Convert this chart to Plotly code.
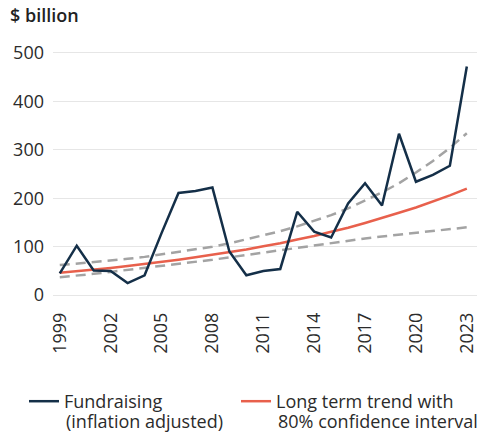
import plotly.graph_objects as go

# Years covered by the series
years = list(range(1999, 2024))

# Fundraising, inflation adjusted ($ billion)
fundraising = [45, 102, 51, 50, 25, 41, 128, 211, 215, 222, 90, 41, 50, 54,
               172, 131, 119, 189, 231, 185, 333, 234, 248, 267, 472]

# Long term trend ($ billion)
trend = [46, 49, 52, 56, 60, 64, 68, 73, 78, 83, 88, 94, 101, 107,
         115, 122, 131, 139, 149, 159, 170, 181, 193, 206, 220]

# 80% confidence interval bounds ($ billion)
upper = [62, 65, 68, 71, 75, 79, 84, 89, 94, 100, 107, 115, 123, 132,
         142, 153, 165, 179, 195, 212, 231, 253, 277, 304, 334]
lower = [37, 40, 44, 48, 52, 56, 60, 64, 69, 73, 78, 83, 88, 93,
         98, 102, 107, 112, 117, 121, 125, 129, 133, 137, 140]

y_ticks = [0, 100, 200, 300, 400, 500]
x_ticks = list(range(1999, 2024, 3))

# Legend labels, split over two lines
fund_label = ["Fundraising", "(inflation adjusted)"]
trend_label = ["Long term trend with", "80% confidence interval"]

NAVY = "#142f48"
RED = "#e8604c"
GREY = "#a3a3a3"
FONT = "Open Sans"
TEXT = "#2b2b2b"

# plot area geometry (pixels) used to place the legend's second lines
W, H = 484, 434
M_L, M_R, M_T, M_B = 53, 7, 48, 134
PLOT_W = W - M_L - M_R
PLOT_H = H - M_T - M_B


def paper_x(px):
    return (px - M_L) / PLOT_W


def paper_y(py):
    return (H - M_B - py) / PLOT_H


fig = go.Figure()

for band in (upper, lower):
    fig.add_trace(go.Scatter(
        x=years, y=band, mode="lines", showlegend=False, hoverinfo="skip",
        line=dict(color=GREY, width=2.5, dash="10px,6px"),
    ))

fig.add_trace(go.Scatter(
    x=years, y=trend, mode="lines", legend="legend2",
    name=trend_label[0],
    line=dict(color=RED, width=2.5),
))

fig.add_trace(go.Scatter(
    x=years, y=fundraising, mode="lines", legend="legend",
    name=fund_label[0],
    line=dict(color=NAVY, width=2.5),
))

legend_common = dict(
    orientation="h", xref="container", yref="container",
    y=1 - 383 / 434, xanchor="left", yanchor="top",
    valign="middle", font=dict(size=18, color=TEXT),
    bgcolor="rgba(0,0,0,0)",
)

second_lines = [
    dict(text=fund_label[1], xref="paper", yref="paper",
         x=paper_x(64), y=paper_y(421), xanchor="left", yanchor="middle",
         showarrow=False, font=dict(size=18, color=TEXT)),
    dict(text=trend_label[1], xref="paper", yref="paper",
         x=paper_x(276), y=paper_y(421), xanchor="left", yanchor="middle",
         showarrow=False, font=dict(size=18, color=TEXT)),
]

fig.update_layout(
    width=W, height=H,
    margin=dict(l=M_L, r=M_R, t=M_T, b=M_B),
    paper_bgcolor="white", plot_bgcolor="white",
    font=dict(family=FONT, size=18, color=TEXT),
    showlegend=True,
    legend=dict(x=24 / W, **legend_common),
    legend2=dict(x=236 / W, **legend_common),
    annotations=[dict(
        text="$ billion", xref="paper", yref="paper",
        x=paper_x(8), y=1, xanchor="left", yanchor="bottom", yshift=19,
        showarrow=False, font=dict(size=18, color="#222222", weight=600),
    )] + second_lines,
)

fig.update_xaxes(
    range=[1998.6, 2023.6], tickvals=x_ticks, tickangle=-90,
    showgrid=False, zeroline=False, showline=False,
    ticks="", ticklabelstandoff=8, tickfont=dict(size=18),
)
fig.update_yaxes(
    range=[-10, 510], tickvals=y_ticks,
    showgrid=True, gridcolor="#e6e6e6", gridwidth=1,
    zeroline=False, showline=False,
    ticks="", ticklabelstandoff=8, tickfont=dict(size=18, weight=500),
)

fig.write_html("out.html")
